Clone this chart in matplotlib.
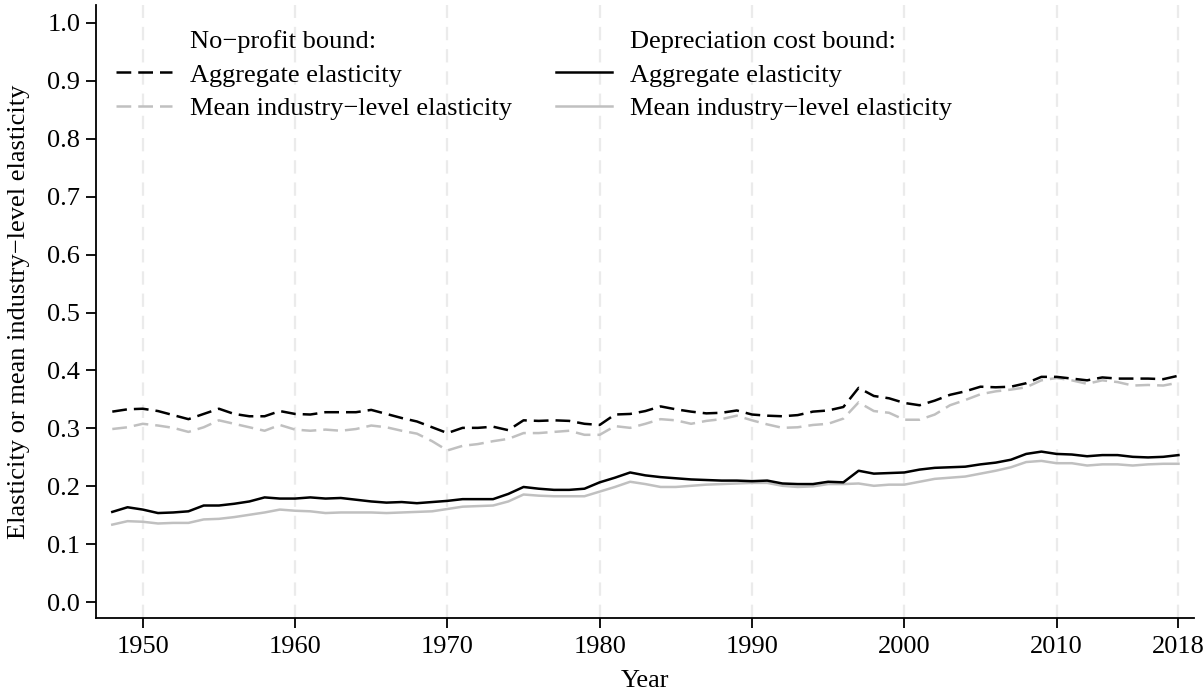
import matplotlib
matplotlib.use("Agg")
import matplotlib.pyplot as plt
from matplotlib.lines import Line2D

years = list(range(1948, 2019))

# No-profit bound, aggregate elasticity (black dashed)
np_agg = [0.329, 0.333, 0.334, 0.330, 0.323, 0.316, 0.325, 0.334, 0.325, 0.321,
          0.321, 0.330, 0.325, 0.324, 0.328, 0.328, 0.328, 0.332, 0.325, 0.318,
          0.312, 0.302, 0.292, 0.301, 0.301, 0.303, 0.297, 0.314, 0.313, 0.314,
          0.313, 0.308, 0.306, 0.324, 0.325, 0.330, 0.338, 0.333, 0.329, 0.326,
          0.327, 0.331, 0.324, 0.322, 0.321, 0.323, 0.329, 0.331, 0.337, 0.370,
          0.356, 0.352, 0.344, 0.340, 0.348, 0.358, 0.364, 0.372, 0.371, 0.372,
          0.378, 0.389, 0.389, 0.386, 0.383, 0.388, 0.386, 0.386, 0.386, 0.385,
          0.391]

# No-profit bound, mean industry-level elasticity (gray dashed)
np_mean = [0.299, 0.302, 0.308, 0.305, 0.301, 0.294, 0.302, 0.314, 0.308, 0.302,
           0.296, 0.306, 0.298, 0.296, 0.298, 0.296, 0.299, 0.305, 0.302, 0.296,
           0.291, 0.278, 0.262, 0.270, 0.273, 0.278, 0.282, 0.292, 0.292, 0.294,
           0.296, 0.289, 0.289, 0.304, 0.301, 0.308, 0.316, 0.314, 0.308, 0.313,
           0.316, 0.322, 0.314, 0.307, 0.301, 0.302, 0.306, 0.308, 0.317, 0.345,
           0.330, 0.327, 0.315, 0.315, 0.324, 0.340, 0.349, 0.359, 0.364, 0.367,
           0.371, 0.383, 0.387, 0.383, 0.377, 0.383, 0.380, 0.374, 0.375, 0.374,
           0.379]

# Depreciation cost bound, aggregate elasticity (black solid)
dc_agg = [0.156, 0.164, 0.160, 0.154, 0.155, 0.157, 0.167, 0.167, 0.170, 0.174,
          0.181, 0.179, 0.179, 0.181, 0.179, 0.180, 0.177, 0.174, 0.172, 0.173,
          0.171, 0.173, 0.175, 0.178, 0.178, 0.178, 0.187, 0.199, 0.196, 0.194,
          0.194, 0.196, 0.207, 0.215, 0.224, 0.219, 0.216, 0.214, 0.212, 0.211,
          0.210, 0.210, 0.209, 0.210, 0.205, 0.204, 0.204, 0.208, 0.207, 0.227,
          0.222, 0.223, 0.224, 0.229, 0.232, 0.233, 0.234, 0.238, 0.241, 0.246,
          0.256, 0.260, 0.256, 0.255, 0.252, 0.254, 0.254, 0.251, 0.250, 0.251,
          0.254]

# Depreciation cost bound, mean industry-level elasticity (gray solid)
dc_mean = [0.134, 0.140, 0.139, 0.136, 0.137, 0.137, 0.143, 0.144, 0.147, 0.151,
           0.155, 0.160, 0.158, 0.157, 0.154, 0.155, 0.155, 0.155, 0.154, 0.155,
           0.156, 0.157, 0.161, 0.165, 0.166, 0.167, 0.174, 0.186, 0.184, 0.183,
           0.183, 0.183, 0.191, 0.199, 0.208, 0.204, 0.199, 0.199, 0.201, 0.203,
           0.204, 0.205, 0.206, 0.206, 0.201, 0.199, 0.200, 0.204, 0.204, 0.205,
           0.201, 0.203, 0.203, 0.208, 0.213, 0.215, 0.217, 0.222, 0.227, 0.233,
           0.242, 0.244, 0.240, 0.240, 0.236, 0.238, 0.238, 0.236, 0.238, 0.239,
           0.239]

xticks = [1950, 1960, 1970, 1980, 1990, 2000, 2010, 2018]
yticks = [0.0, 0.1, 0.2, 0.3, 0.4, 0.5, 0.6, 0.7, 0.8, 0.9, 1.0]

plt.rcParams['font.family'] = ['Liberation Serif', 'DejaVu Serif']
FS = 19

fig = plt.figure(figsize=(12.04, 6.94), dpi=100)
ax = fig.add_axes([96.3/1204, 1 - 618.3/694, (1193.7 - 96.3)/1204, (618.3 - 5)/694])

gray = '#c0c0c0'
dash = (5.9, 2.8)
lw = 1.8

for xv in xticks:
    ax.axvline(xv, color='#ebebeb', lw=1.6, dashes=(6, 4), zorder=0)

ax.plot(years, np_mean, color=gray, lw=lw, dashes=dash, zorder=2)
ax.plot(years, dc_mean, color=gray, lw=lw, zorder=2)
ax.plot(years, np_agg, color='black', lw=lw, dashes=dash, zorder=3)
ax.plot(years, dc_agg, color='black', lw=lw, zorder=3)

ax.set_xlim(1946.95, 2019.0)
ax.set_ylim(-0.0276, 1.0306)
ax.set_xticks(xticks)
ax.set_yticks(yticks)
ax.set_yticklabels([f"{v:.1f}" for v in yticks])
ax.tick_params(axis='both', labelsize=FS, length=7.2, width=1.3, direction='out')
ax.tick_params(axis='y', pad=4.3)
ax.tick_params(axis='x', pad=5.5)

for s in ['top', 'right']:
    ax.spines[s].set_visible(False)
for s in ['left', 'bottom']:
    ax.spines[s].set_linewidth(1.3)

ax.set_xlabel('Year', fontsize=FS, labelpad=9)
ax.set_ylabel('Elasticity or mean industry\u2212level elasticity', fontsize=FS, labelpad=12.5)

blank = Line2D([], [], color='none')
handles = [blank,
           Line2D([], [], color='black', lw=lw, dashes=dash),
           Line2D([], [], color=gray, lw=lw, dashes=dash),
           blank,
           Line2D([], [], color='black', lw=lw),
           Line2D([], [], color=gray, lw=lw)]
labels = ['No\u2212profit bound:', 'Aggregate elasticity', 'Mean industry\u2212level elasticity',
          'Depreciation cost bound:', 'Aggregate elasticity', 'Mean industry\u2212level elasticity']
leg = ax.legend(handles, labels, ncol=2, frameon=False, fontsize=FS,
                loc='upper left', bbox_to_anchor=(20/1097.4, 1.0 - 25/613.3),
                handlelength=2.12, handletextpad=0.68, columnspacing=1.65,
                labelspacing=0.37, borderaxespad=0, borderpad=0)

fig.savefig('out.png', dpi=100)
